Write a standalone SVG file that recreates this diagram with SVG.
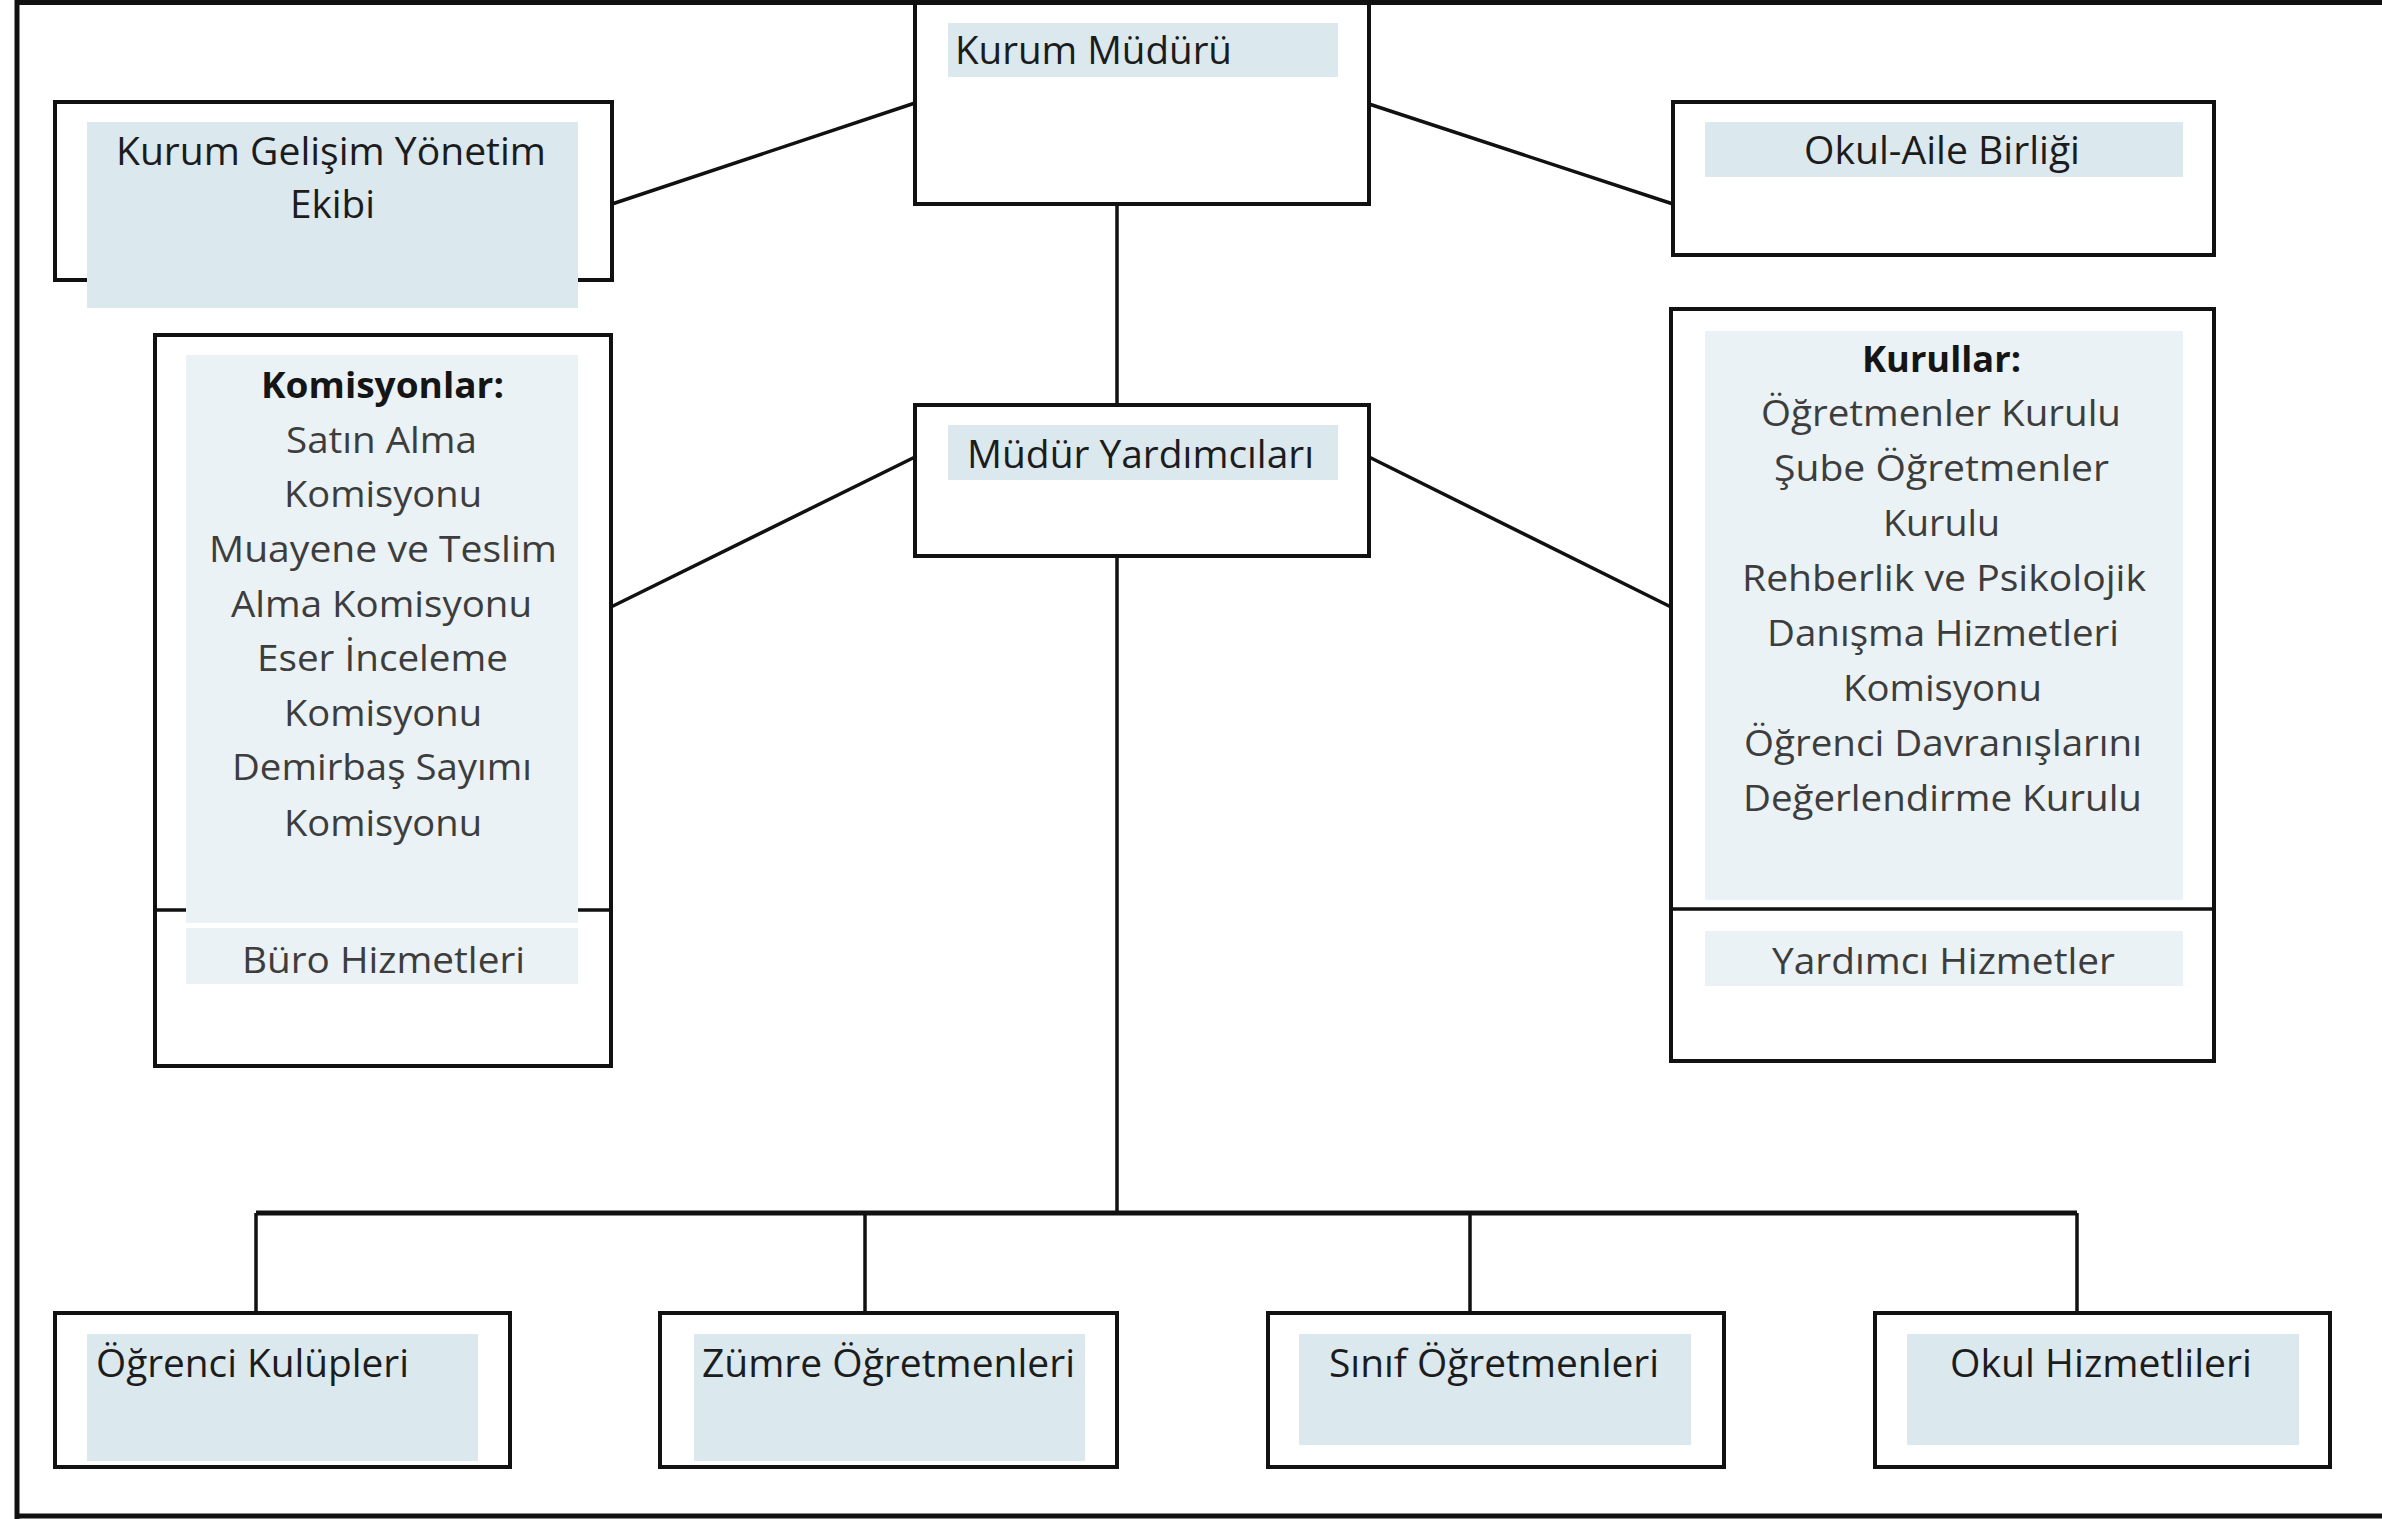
<svg xmlns="http://www.w3.org/2000/svg" width="2382" height="1519" viewBox="0 0 2382 1519">
<style>
.box{fill:#ffffff;stroke:#111;stroke-width:4}
.hl{fill:#dbe8ee}
.hl2{fill:#eaf2f5}
.conn{stroke:#111;stroke-width:3.5;fill:none}
.bus{stroke:#111;stroke-width:5;fill:none}
.lbl{font-family:"Open Sans","Liberation Sans",sans-serif;font-size:38px;fill:#1c1c1c}
.lst{font-family:"Open Sans","Liberation Sans",sans-serif;font-size:36px;fill:#3d3d3d}
.hdr{font-family:"Open Sans","Liberation Sans",sans-serif;font-size:36px;font-weight:bold;fill:#151515}
</style>
<rect x="0" y="0" width="2382" height="1519" fill="#ffffff"/>
<path d="M17,1519 L17,2.5 L2382,2.5 M17,1516 L2382,1516" stroke="#111" stroke-width="5" fill="none"/>

<g id="connectors">
<line class="conn" x1="915" y1="103" x2="612" y2="204"/>
<line class="conn" x1="1369" y1="104" x2="1673" y2="204"/>
<line class="conn" x1="1117" y1="204" x2="1117" y2="405"/>
<line class="conn" x1="915" y1="457" x2="611" y2="607"/>
<line class="conn" x1="1369" y1="457" x2="1671" y2="607"/>
<line class="conn" x1="1117" y1="556" x2="1117" y2="1213"/>
<line class="bus" x1="256" y1="1213" x2="2077" y2="1213"/>
<line class="conn" x1="256" y1="1213" x2="256" y2="1313"/>
<line class="conn" x1="865" y1="1213" x2="865" y2="1313"/>
<line class="conn" x1="1470" y1="1213" x2="1470" y2="1313"/>
<line class="conn" x1="2077" y1="1213" x2="2077" y2="1313"/>
</g>

<g id="kurum-muduru">
<rect class="box" x="915" y="3" width="454" height="201"/>
<rect class="hl" x="948" y="23" width="390" height="54"/>
<text class="lbl" x="955" y="64" textLength="277" lengthAdjust="spacingAndGlyphs">Kurum Müdürü</text>
</g>

<g id="kurum-gelisim">
<rect class="box" x="55" y="102" width="557" height="178"/>
<rect class="hl" x="87" y="122" width="491" height="186"/>
<text class="lbl" x="116" y="165" textLength="430" lengthAdjust="spacingAndGlyphs">Kurum Gelişim Yönetim</text>
<text class="lbl" x="290" y="218" textLength="85" lengthAdjust="spacingAndGlyphs">Ekibi</text>
</g>

<g id="okul-aile">
<rect class="box" x="1673" y="102" width="541" height="153"/>
<rect class="hl" x="1705" y="122" width="478" height="55"/>
<text class="lbl" x="1804" y="164" textLength="276" lengthAdjust="spacingAndGlyphs">Okul-Aile Birliği</text>
</g>

<g id="mudur-yardimcilari">
<rect class="box" x="915" y="405" width="454" height="151"/>
<rect class="hl" x="948" y="425" width="390" height="55"/>
<text class="lbl" x="967" y="468" textLength="347" lengthAdjust="spacingAndGlyphs">Müdür Yardımcıları</text>
</g>

<g id="komisyonlar">
<rect class="box" x="155" y="335" width="456" height="731"/>
<line class="conn" x1="155" y1="910" x2="611" y2="910" stroke-width="4"/>
<rect class="hl2" x="186" y="355" width="392" height="568"/>
<rect class="hl2" x="186" y="928" width="392" height="56"/>
<text class="hdr" x="261" y="398" textLength="243" lengthAdjust="spacingAndGlyphs">Komisyonlar:</text>
<text class="lst" x="286" y="453" textLength="191" lengthAdjust="spacingAndGlyphs">Satın Alma</text>
<text class="lst" x="284" y="507" textLength="198" lengthAdjust="spacingAndGlyphs">Komisyonu</text>
<text class="lst" x="209" y="562" textLength="348" lengthAdjust="spacingAndGlyphs">Muayene ve Teslim</text>
<text class="lst" x="231" y="617" textLength="301" lengthAdjust="spacingAndGlyphs">Alma Komisyonu</text>
<text class="lst" x="257" y="671" textLength="251" lengthAdjust="spacingAndGlyphs">Eser İnceleme</text>
<text class="lst" x="284" y="726" textLength="198" lengthAdjust="spacingAndGlyphs">Komisyonu</text>
<text class="lst" x="232" y="780" textLength="300" lengthAdjust="spacingAndGlyphs">Demirbaş Sayımı</text>
<text class="lst" x="284" y="836" textLength="198" lengthAdjust="spacingAndGlyphs">Komisyonu</text>
<text class="lst" x="242" y="973" textLength="283" lengthAdjust="spacingAndGlyphs">Büro Hizmetleri</text>
</g>

<g id="kurullar">
<rect class="box" x="1671" y="309" width="543" height="752"/>
<line class="conn" x1="1671" y1="909" x2="2214" y2="909" stroke-width="4"/>
<rect class="hl2" x="1705" y="331" width="478" height="569"/>
<rect class="hl2" x="1705" y="931" width="478" height="55"/>
<text class="hdr" x="1862" y="372" textLength="159" lengthAdjust="spacingAndGlyphs">Kurullar:</text>
<text class="lst" x="1761" y="426" textLength="360" lengthAdjust="spacingAndGlyphs">Öğretmenler Kurulu</text>
<text class="lst" x="1774" y="481" textLength="335" lengthAdjust="spacingAndGlyphs">Şube Öğretmenler</text>
<text class="lst" x="1883" y="536" textLength="117" lengthAdjust="spacingAndGlyphs">Kurulu</text>
<text class="lst" x="1742" y="591" textLength="404" lengthAdjust="spacingAndGlyphs">Rehberlik ve Psikolojik</text>
<text class="lst" x="1767" y="646" textLength="352" lengthAdjust="spacingAndGlyphs">Danışma Hizmetleri</text>
<text class="lst" x="1843" y="701" textLength="199" lengthAdjust="spacingAndGlyphs">Komisyonu</text>
<text class="lst" x="1744" y="756" textLength="398" lengthAdjust="spacingAndGlyphs">Öğrenci Davranışlarını</text>
<text class="lst" x="1743" y="811" textLength="399" lengthAdjust="spacingAndGlyphs">Değerlendirme Kurulu</text>
<text class="lst" x="1772" y="974" textLength="343" lengthAdjust="spacingAndGlyphs">Yardımcı Hizmetler</text>
</g>

<g id="ogrenci-kulupleri">
<rect class="box" x="55" y="1313" width="455" height="154"/>
<rect class="hl" x="87" y="1334" width="391" height="127"/>
<text class="lbl" x="96" y="1377" textLength="313" lengthAdjust="spacingAndGlyphs">Öğrenci Kulüpleri</text>
</g>

<g id="zumre-ogretmenleri">
<rect class="box" x="660" y="1313" width="457" height="154"/>
<rect class="hl" x="694" y="1334" width="391" height="127"/>
<text class="lbl" x="702" y="1377" textLength="373" lengthAdjust="spacingAndGlyphs">Zümre Öğretmenleri</text>
</g>

<g id="sinif-ogretmenleri">
<rect class="box" x="1268" y="1313" width="456" height="154"/>
<rect class="hl" x="1299" y="1334" width="392" height="111"/>
<text class="lbl" x="1329" y="1377" textLength="330" lengthAdjust="spacingAndGlyphs">Sınıf Öğretmenleri</text>
</g>

<g id="okul-hizmetlileri">
<rect class="box" x="1875" y="1313" width="455" height="154"/>
<rect class="hl" x="1907" y="1334" width="392" height="111"/>
<text class="lbl" x="1950" y="1377" textLength="302" lengthAdjust="spacingAndGlyphs">Okul Hizmetlileri</text>
</g>
</svg>
